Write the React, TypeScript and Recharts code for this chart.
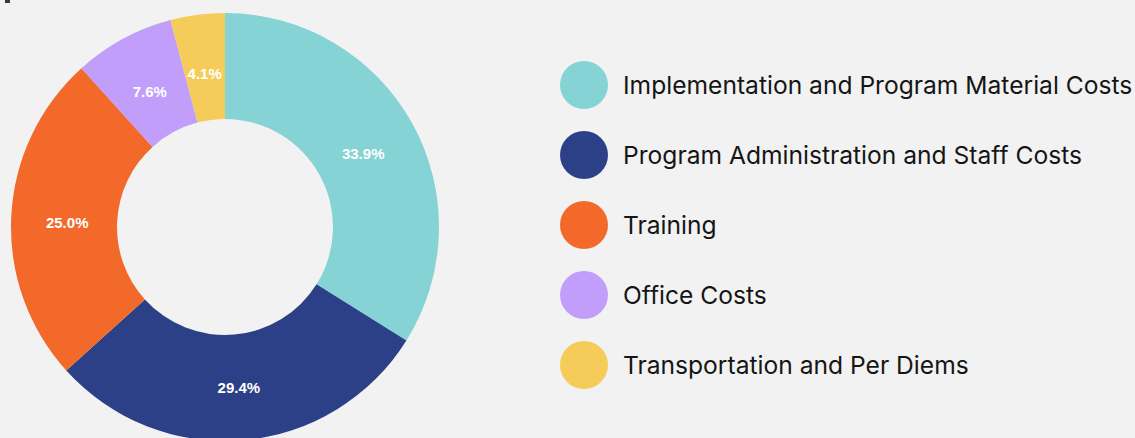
import React from "react";
import { PieChart, Pie, Cell } from "recharts";

const categories = [
  "Implementation and Program Material Costs",
  "Program Administration and Staff Costs",
  "Training",
  "Office Costs",
  "Transportation and Per Diems",
];
const values = [33.9, 29.4, 25.0, 7.6, 4.1];
const colors = ["#86d3d5", "#2c4087", "#f2692a", "#c19ef9", "#f5cc5a"];

const data = categories.map((name, i) => ({ name, value: values[i] }));

const RAD = Math.PI / 180;
const renderLabel = (props: any) => {
  const { cx, cy, midAngle, value } = props;
  const r = 158;
  const x = cx + r * Math.cos(-midAngle * RAD);
  const y = cy + r * Math.sin(-midAngle * RAD) + 3;
  return (
    <text
      x={x}
      y={y}
      fill="#ffffff"
      textAnchor="middle"
      dominantBaseline="central"
      fontFamily="'Liberation Sans', Arial, sans-serif"
      fontWeight={700}
      fontSize={15}
    >
      {value.toFixed(1)}%
    </text>
  );
};

export default function App() {
  return (
    <div
      style={{
        position: "fixed",
        left: 0,
        top: 0,
        width: 1135,
        height: 438,
        background: "#f1f2f1",
        overflow: "hidden",
      }}
    >
      <div
        style={{
          position: "absolute",
          left: 5,
          top: 0,
          width: 5,
          height: 3,
          background: "#3a3a3a",
        }}
      />
      <PieChart width={1135} height={438} margin={{ top: 0, right: 0, bottom: 0, left: 0 }}>
        <Pie
          data={data}
          dataKey="value"
          nameKey="name"
          cx={225}
          cy={227}
          innerRadius={108}
          outerRadius={214}
          startAngle={90}
          endAngle={-270}
          stroke="none"
          label={renderLabel}
          labelLine={false}
          isAnimationActive={false}
        >
          {data.map((d, i) => (
            <Cell key={d.name} fill={colors[i]} />
          ))}
        </Pie>
      </PieChart>
      <div style={{ position: "absolute", left: 560, top: 50 }}>
        {categories.map((name, i) => (
          <div
            key={name}
            style={{ display: "flex", alignItems: "center", height: 70 }}
          >
            <div
              style={{
                width: 48,
                height: 48,
                borderRadius: "50%",
                background: colors[i],
                marginRight: 15,
                flex: "none",
              }}
            />
            <span
              style={{
                fontFamily: "Inter, 'Noto Sans', sans-serif",
                fontSize: 24.6,
                color: "#151515",
                whiteSpace: "nowrap",
              }}
            >
              {name}
            </span>
          </div>
        ))}
      </div>
    </div>
  );
}
